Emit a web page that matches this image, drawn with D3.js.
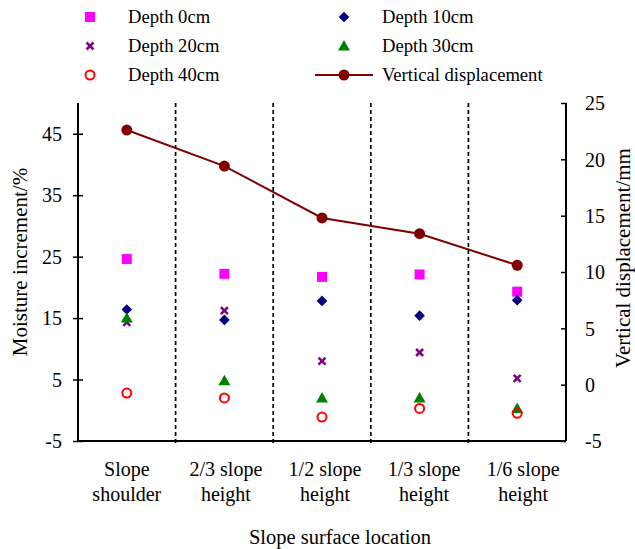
<!DOCTYPE html>
<html>
<head>
<meta charset="utf-8">
<script src="https://cdn.jsdelivr.net/npm/d3@7"></script>
</head>
<body style="margin:0; background:#fff">
<div id="chart"></div>
<script>
// categories along the slope
var locations = [["Slope", "shoulder"], ["2/3 slope", "height"], ["1/2 slope", "height"], ["1/3 slope", "height"], ["1/6 slope", "height"]];
var depth0 = [24.6, 22.2, 21.7, 22.1, 19.3];
var depth10 = [16.4, 14.7, 17.8, 15.4, 17.9];
var depth20 = [14.3, 16.2, 8.0, 9.4, 5.2];
var depth30 = [15.0, 4.8, 2.0, 2.0, 0.3];
var depth40 = [2.8, 2.0, -1.1, 0.3, -0.5];
var displacement = [22.6, 19.4, 14.8, 13.4, 10.6];
var leftTicks = [-5, 5, 15, 25, 35, 45];
var rightTicks = [-5, 0, 5, 10, 15, 20, 25];

var FONT = "Liberation Serif";

var margin = {top: 103, right: 69, bottom: 108, left: 78},
    width = 635 - margin.left - margin.right,
    height = 549 - margin.top - margin.bottom;

var root = d3.select("#chart")
  .append("svg")
    .attr("width", 635)
    .attr("height", 549)
    .attr("font-family", FONT);

var svg = root.append("g")
    .attr("transform", "translate(" + margin.left + "," + margin.top + ")");

var x = d3.scaleBand()
    .domain(d3.range(locations.length))
    .range([0, width]);

var y = d3.scaleLinear().domain([-5, 50]).range([height, 0]);
var y2 = d3.scaleLinear().domain([-5, 25]).range([height, 0]);

var cx = function (i) { return x(i) + x.bandwidth() / 2; };

// dashed separators
svg.append("g")
  .selectAll("line")
  .data(d3.range(1, locations.length))
  .enter()
  .append("line")
    .attr("x1", d => x(d)).attr("x2", d => x(d))
    .attr("y1", 0).attr("y2", height + 4)
    .attr("stroke", "#000")
    .attr("stroke-width", 1.7)
    .attr("stroke-dasharray", "4,3");

// left axis
var yAxis = svg.append("g")
  .call(d3.axisLeft(y).tickValues(leftTicks).tickFormat(d => String(d)).tickSize(5).tickPadding(11));
yAxis.attr("font-family", FONT).attr("font-size", 20);
yAxis.selectAll(".tick line").attr("x1", 5).attr("x2", -5).attr("stroke-width", 1.5);
yAxis.select(".domain").remove();
yAxis.append("line").attr("x1", 0).attr("x2", 0).attr("y1", 0).attr("y2", height)
  .attr("stroke", "#000").attr("stroke-width", 2);
yAxis.selectAll("text").attr("fill", "#000").attr("dy", "0.34em");

// right axis
var yAxis2 = svg.append("g")
  .attr("transform", "translate(" + width + ",0)")
  .call(d3.axisRight(y2).tickValues(rightTicks).tickFormat(d => String(d)).tickSize(0).tickPadding(19));
yAxis2.attr("font-family", FONT).attr("font-size", 20);
yAxis2.selectAll(".tick").append("line").attr("x1", 0).attr("x2", -5)
  .attr("stroke", "#000").attr("stroke-width", 1.5);
yAxis2.select(".domain").remove();
yAxis2.append("line").attr("x1", 0).attr("x2", 0).attr("y1", 0).attr("y2", height)
  .attr("stroke", "#000").attr("stroke-width", 2);
yAxis2.selectAll("text").attr("fill", "#000").attr("dy", "0.34em");

// bottom axis line
svg.append("line")
  .attr("x1", 0).attr("x2", width)
  .attr("y1", height).attr("y2", height)
  .attr("stroke", "#000").attr("stroke-width", 2);

// category labels
var labels = svg.append("g").selectAll("text")
  .data(locations)
  .enter()
  .append("text")
    .attr("text-anchor", "middle")
    .attr("font-family", FONT)
    .attr("font-size", 20);
labels.append("tspan").attr("x", (d, i) => cx(i) + i * 1.5).attr("y", height + 35).text(d => d[0]);
labels.append("tspan").attr("x", (d, i) => cx(i) + i * 1.5).attr("y", height + 60).text(d => d[1]);

// axis titles
svg.append("text")
  .attr("text-anchor", "middle")
  .attr("x", width / 2 + 18)
  .attr("y", height + 103)
  .attr("font-family", FONT)
  .attr("font-size", 20.5)
  .text("Slope surface location");

svg.append("text")
  .attr("text-anchor", "middle")
  .attr("transform", "translate(-51," + (height / 2 - 10) + ") rotate(-90)")
  .attr("font-family", FONT)
  .attr("font-size", 21)
  .text("Moisture increment/%");

svg.append("text")
  .attr("text-anchor", "middle")
  .attr("transform", "translate(" + (width + 64) + "," + (height / 2 - 14) + ") rotate(-90)")
  .attr("font-family", FONT)
  .attr("font-size", 21)
  .text("Vertical displacement/mm");

// marker drawers
var sym = {
  square: d3.symbol().type(d3.symbolSquare).size(100),
  diamond: d3.symbol().type(d3.symbolDiamond2).size(72),
  triangle: d3.symbol().type(d3.symbolTriangle).size(62)
};

function drawSeries(g, values, kind) {
  values.forEach(function (v, i) {
    drawMarker(g, cx(i), y(v), kind);
  });
}

function drawMarker(g, px, py, kind) {
  if (kind === "square") {
    g.append("path").attr("d", sym.square()).attr("transform", "translate(" + px + "," + py + ")").attr("fill", "#ff00ff");
  } else if (kind === "diamond") {
    g.append("path").attr("d", sym.diamond()).attr("transform", "translate(" + px + "," + py + ")").attr("fill", "#000080");
  } else if (kind === "triangle") {
    g.append("path").attr("d", sym.triangle()).attr("transform", "translate(" + px + "," + (py + 1) + ")").attr("fill", "#008000");
  } else if (kind === "cross") {
    g.append("path").attr("d", "M-3.5,-3.5L3.5,3.5M-3.5,3.5L3.5,-3.5M-2,0L2,0")
      .attr("transform", "translate(" + px + "," + py + ")")
      .attr("stroke", "#800080").attr("stroke-width", 2.5).attr("fill", "none");
  } else if (kind === "circle") {
    g.append("circle").attr("cx", px).attr("cy", py).attr("r", 4.5)
      .attr("fill", "none").attr("stroke", "#ff0000").attr("stroke-width", 2);
  } else if (kind === "disp") {
    g.append("circle").attr("cx", px).attr("cy", py).attr("r", 5.5).attr("fill", "#800000");
  }
}

var marks = svg.append("g");
drawSeries(marks, depth0, "square");
drawSeries(marks, depth20, "cross");
drawSeries(marks, depth10, "diamond");
drawSeries(marks, depth30, "triangle");
drawSeries(marks, depth40, "circle");

// vertical displacement line
var line = d3.line()
  .x((d, i) => cx(i))
  .y(d => y2(d));
svg.append("path")
  .datum(displacement)
  .attr("fill", "none")
  .attr("stroke", "#800000")
  .attr("stroke-width", 2)
  .attr("d", line);
displacement.forEach(function (v, i) {
  drawMarker(marks, cx(i), y2(v), "disp");
});

// legend (page coordinates)
var legend = root.append("g");
var legendItems = [
  {label: "Depth 0cm", kind: "square", x: 90, y: 17},
  {label: "Depth 10cm", kind: "diamond", x: 344, y: 17},
  {label: "Depth 20cm", kind: "cross", x: 90, y: 46},
  {label: "Depth 30cm", kind: "triangle", x: 344, y: 46},
  {label: "Depth 40cm", kind: "circle", x: 90, y: 75},
  {label: "Vertical displacement", kind: "disp", x: 344, y: 75}
];
legendItems.forEach(function (d) {
  if (d.kind === "disp") {
    legend.append("line").attr("x1", d.x - 29).attr("x2", d.x + 29)
      .attr("y1", d.y).attr("y2", d.y)
      .attr("stroke", "#800000").attr("stroke-width", 2);
  }
  drawMarker(legend, d.x, d.y, d.kind);
  legend.append("text")
    .attr("x", d.x + 38)
    .attr("y", d.y + 6)
    .attr("font-family", FONT)
    .attr("font-size", 18.6)
    .text(d.label);
});
</script>
</body>
</html>
